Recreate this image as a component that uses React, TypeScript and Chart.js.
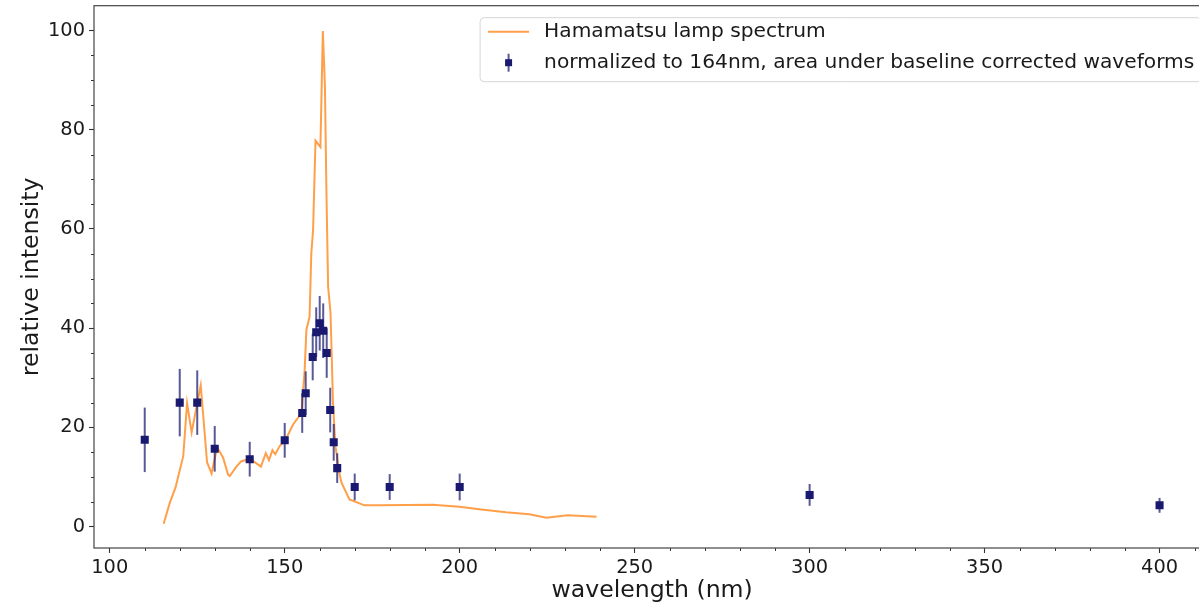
import React, { useEffect, useRef } from "react";
import { Chart, registerables } from "chart.js";

Chart.register(...registerables);

// Hamamatsu lamp spectrum (wavelength nm, relative intensity)
const lampX = [
  115.4, 117.2, 118.8, 121.0, 122.1, 123.4, 126.0, 127.8, 129.1, 130.7,
  132.4, 133.8, 134.3, 136.2, 137.6, 140.0, 141.4, 143.2, 144.6, 145.5,
  146.5, 147.3, 148.6, 150.0, 152.4, 154.8, 155.7, 156.2, 157.1, 157.6,
  158.1, 158.8, 160.2, 160.9, 161.5, 161.9, 162.4, 163.1, 163.8, 164.5,
  165.7, 166.2, 168.5, 172.8, 177.1, 192.3, 199.9, 205.6, 213.2, 219.9,
  224.8, 230.8, 239.1,
];
const lampY = [
  0.6, 4.9, 7.9, 14.2, 24.9, 19.0, 28.5, 13.0, 10.7, 16.0,
  13.9, 10.5, 10.2, 12.1, 13.2, 13.6, 13.0, 12.1, 14.8, 13.4,
  15.4, 14.6, 16.3, 17.2, 20.6, 22.9, 31.6, 39.7, 42.3, 55.1,
  59.7, 77.8, 76.5, 99.9, 88.5, 68.4, 48.4, 43.0, 24.9, 16.2,
  10.5, 8.9, 5.5, 4.3, 4.3, 4.4, 4.0, 3.5, 2.9, 2.5,
  1.8, 2.3, 2.0,
];

// Measured points with error bars
const measX = [110, 120, 125, 130, 140, 150, 155, 156, 158, 159, 160, 161, 162, 163, 164, 165, 170, 180, 200, 300, 400];
const measY = [17.5, 25.0, 25.0, 15.7, 13.6, 17.4, 22.9, 26.9, 34.2, 39.2, 41.0, 39.5, 35.0, 23.5, 17.0, 11.8, 8.0, 8.0, 8.0, 6.4, 4.3];
const measErr = [6.5, 6.8, 6.5, 4.6, 3.5, 3.5, 4.0, 4.4, 4.7, 5.0, 5.5, 5.5, 5.0, 4.5, 3.7, 3.0, 2.7, 2.6, 2.7, 2.2, 1.5];

const xMajorTicks = [100, 150, 200, 250, 300, 350, 400];
const xMinorTicks = [110, 120, 130, 140, 160, 170, 180, 190, 210, 220, 230, 240, 260, 270, 280, 290, 310, 320, 330, 340, 360, 370, 380, 390, 410];
const yMajorTicks = [0, 20, 40, 60, 80, 100];
const yMinorTicks = [5, 10, 15, 25, 30, 35, 45, 50, 55, 65, 70, 75, 85, 90, 95];

const lampLabel = "Hamamatsu lamp spectrum";
const measLabel = "normalized to 164nm, area under baseline corrected waveforms";
const xTitle = "wavelength (nm)";
const yTitle = "relative intensity";

const ORANGE = "rgba(255,127,14,0.75)";
const NAVY = "#191970";
const ERR_COLOR = "rgba(25,25,112,0.72)";
const TEXT = "#1a1a1a";
const FONT = "DejaVu Sans";
const TICK_SIZE = 19.4;
const LEGEND_SIZE = 20.2;
const TITLE_SIZE = 23.6;

const W = 1216;
const H = 607;

const errorBarPlugin = {
  id: "errorBars",
  beforeDatasetDraw(chart: any, args: any) {
    if (args.index !== 1) return;
    const { ctx, scales } = chart;
    const xs = scales.x;
    const ys = scales.y;
    ctx.save();
    ctx.strokeStyle = ERR_COLOR;
    ctx.lineWidth = 2;
    for (let i = 0; i < measX.length; i++) {
      const px = xs.getPixelForValue(measX[i]);
      const y1 = ys.getPixelForValue(measY[i] - measErr[i]);
      const y2 = ys.getPixelForValue(measY[i] + measErr[i]);
      ctx.beginPath();
      ctx.moveTo(px, y1);
      ctx.lineTo(px, y2);
      ctx.stroke();
    }
    ctx.restore();
  },
};

const framePlugin = {
  id: "frame",
  afterDraw(chart: any) {
    const { ctx, chartArea: ca, scales } = chart;
    ctx.save();
    // minor ticks
    ctx.strokeStyle = "#333";
    ctx.lineWidth = 1;
    ctx.beginPath();
    for (const v of xMinorTicks) {
      const px = Math.round(scales.x.getPixelForValue(v)) + 0.5;
      ctx.moveTo(px, ca.bottom);
      ctx.lineTo(px, ca.bottom + 3);
    }
    for (const v of yMinorTicks) {
      const py = Math.round(scales.y.getPixelForValue(v)) + 0.5;
      ctx.moveTo(ca.left, py);
      ctx.lineTo(ca.left - 3, py);
    }
    ctx.stroke();
    // spines
    ctx.strokeStyle = "#444";
    ctx.lineWidth = 1.2;
    ctx.strokeRect(ca.left, ca.top, ca.right - ca.left, ca.bottom - ca.top);

    // legend
    ctx.font = `${LEGEND_SIZE}px "${FONT}"`;
    const tw = Math.max(ctx.measureText(lampLabel).width, ctx.measureText(measLabel).width);
    const right = ca.right - 9;
    const width = 8 + 41 + 15 + tw + 7;
    const left = right - width;
    const top = ca.top + 12;
    const height = 64;
    const r = 4;
    ctx.beginPath();
    ctx.moveTo(left + r, top);
    ctx.lineTo(right - r, top);
    ctx.arcTo(right, top, right, top + r, r);
    ctx.lineTo(right, top + height - r);
    ctx.arcTo(right, top + height, right - r, top + height, r);
    ctx.lineTo(left + r, top + height);
    ctx.arcTo(left, top + height, left, top + height - r, r);
    ctx.lineTo(left, top + r);
    ctx.arcTo(left, top, left + r, top, r);
    ctx.closePath();
    ctx.fillStyle = "rgba(255,255,255,0.8)";
    ctx.fill();
    ctx.strokeStyle = "#d6d6d6";
    ctx.lineWidth = 1;
    ctx.stroke();

    const row1 = top + 14;
    const row2 = top + 45;
    // lamp handle
    ctx.strokeStyle = ORANGE;
    ctx.lineWidth = 2;
    ctx.beginPath();
    ctx.moveTo(left + 8, row1);
    ctx.lineTo(left + 49, row1);
    ctx.stroke();
    // error bar handle
    const hx = left + 28.5;
    ctx.strokeStyle = ERR_COLOR;
    ctx.beginPath();
    ctx.moveTo(hx, row2 - 9);
    ctx.lineTo(hx, row2 + 9);
    ctx.stroke();
    ctx.fillStyle = NAVY;
    ctx.fillRect(hx - 3.5, row2 - 3.5, 7, 7);

    ctx.fillStyle = TEXT;
    ctx.textBaseline = "middle";
    ctx.textAlign = "left";
    ctx.fillText(lampLabel, left + 64, row1);
    ctx.fillText(measLabel, left + 64, row2);
    ctx.restore();
  },
};

export default function App() {
  const canvasRef = useRef<HTMLCanvasElement | null>(null);

  useEffect(() => {
    const canvas = canvasRef.current;
    if (!canvas) return;
    const chart = new Chart(canvas, {
      type: "scatter",
      data: {
        datasets: [
          {
            label: lampLabel,
            data: lampX.map((x, i) => ({ x, y: lampY[i] })),
            showLine: true,
            borderColor: ORANGE,
            backgroundColor: ORANGE,
            borderWidth: 2,
            pointRadius: 0,
            tension: 0,
            order: 2,
          },
          {
            label: measLabel,
            data: measX.map((x, i) => ({ x, y: measY[i] })),
            showLine: false,
            pointStyle: "rect",
            pointRadius: 5.7,
            backgroundColor: NAVY,
            borderWidth: 0,
            order: 1,
          },
        ],
      },
      options: {
        animation: false,
        responsive: false,
        devicePixelRatio: 1,
        events: [],
        layout: { padding: { left: 0, top: 4, right: W - 1211.9, bottom: 0 } },
        plugins: {
          legend: { display: false },
          tooltip: { enabled: false },
        },
        scales: {
          x: {
            type: "linear",
            min: 95.5,
            max: 414.5,
            afterBuildTicks: (s: any) => {
              s.ticks = xMajorTicks.map((v) => ({ value: v }));
            },
            afterFit: (s: any) => {
              s.height = 59;
              s.paddingLeft = 0;
              s.paddingRight = 0;
            },
            ticks: {
              font: { family: FONT, size: TICK_SIZE },
              color: TEXT,
              padding: 3,
              maxRotation: 0,
              autoSkip: false,
              callback: (v: any) => String(v),
            },
            grid: {
              drawOnChartArea: false,
              drawTicks: true,
              tickLength: 5,
              tickColor: "#333",
              tickWidth: 1.1,
            },
            border: { display: false },
            title: {
              display: true,
              text: xTitle,
              color: TEXT,
              font: { family: FONT, size: TITLE_SIZE },
              padding: { top: 0, bottom: 2 },
            },
          },
          y: {
            type: "linear",
            min: -4.3,
            max: 105,
            afterBuildTicks: (s: any) => {
              s.ticks = yMajorTicks.map((v) => ({ value: v }));
            },
            afterFit: (s: any) => {
              s.width = 94;
              s.paddingTop = 0;
              s.paddingBottom = 0;
            },
            ticks: {
              font: { family: FONT, size: TICK_SIZE },
              color: TEXT,
              padding: 4,
              autoSkip: false,
              callback: (v: any) => String(v),
            },
            grid: {
              drawOnChartArea: false,
              drawTicks: true,
              tickLength: 5,
              tickColor: "#333",
              tickWidth: 1.1,
            },
            border: { display: false },
            title: {
              display: true,
              text: yTitle,
              color: TEXT,
              font: { family: FONT, size: TITLE_SIZE },
              padding: { top: 18, bottom: 0 },
            },
          },
        },
      },
      plugins: [errorBarPlugin, framePlugin],
    });
    return () => chart.destroy();
  }, []);

  return (
    <div
      style={{
        position: "absolute",
        left: 0,
        top: 0,
        width: 1199,
        height: 607,
        overflow: "hidden",
        background: "#fff",
      }}
    >
      <canvas
        ref={canvasRef}
        width={W}
        height={H}
        style={{ display: "block", width: W, height: H }}
      />
    </div>
  );
}
